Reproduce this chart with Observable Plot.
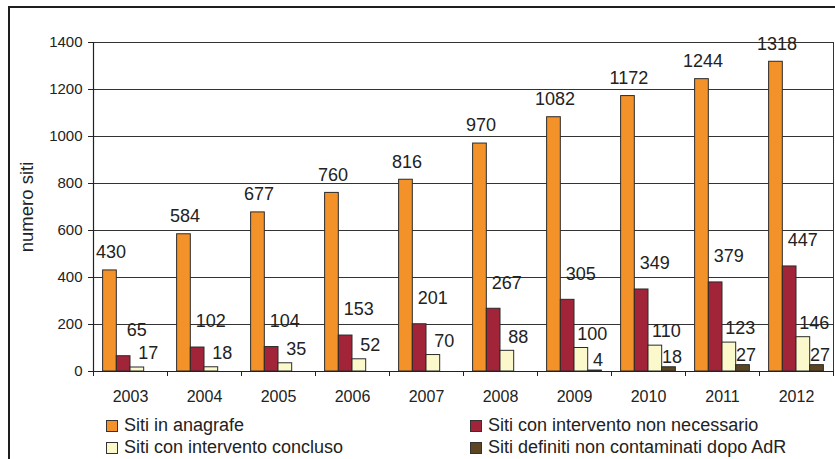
<!DOCTYPE html>
<html>
<head>
<meta charset="utf-8">
<script src="https://cdn.jsdelivr.net/npm/d3@7"></script>
<script src="https://cdn.jsdelivr.net/npm/@observablehq/plot@0.6"></script>
<style>
  html, body { margin: 0; padding: 0; background: #fff; }
  body { width: 835px; height: 459px; overflow: hidden; position: relative; font-family: "Liberation Sans", Arial, sans-serif; color: #222; }
  #frame { position: absolute; left: 8px; top: 6px; width: 900px; height: 520px; border: 2px solid #1e1e1e; box-sizing: border-box; }
  #chart { position: absolute; left: 0; top: 0; }
  #legend { position: absolute; left: 106px; top: 415px; display: grid; grid-template-columns: 364px auto; row-gap: 1px; font-size: 18px; line-height: 21px; }
  .item { display: flex; align-items: center; white-space: nowrap; }
  .sw { width: 10px; height: 10px; border: 1px solid #333; margin-right: 6px; flex: none; }
</style>
</head>
<body>
<div id="frame"></div>
<div id="chart"></div>
<div id="legend"></div>
<script>
const years = ["2003","2004","2005","2006","2007","2008","2009","2010","2011","2012"];
const sitiAnagrafe = [430, 584, 677, 760, 816, 970, 1082, 1172, 1244, 1318];
const sitiNonNecessario = [65, 102, 104, 153, 201, 267, 305, 349, 379, 447];
const sitiConcluso = [17, 18, 35, 52, 70, 88, 100, 110, 123, 146];
const sitiNonContaminati = [null, null, null, null, null, null, 4, 18, 27, 27];
const seriesNames = ["Siti in anagrafe", "Siti con intervento non necessario", "Siti con intervento concluso", "Siti definiti non contaminati dopo AdR"];
const yTicks = [0, 200, 400, 600, 800, 1000, 1200, 1400];

// styles (kept separate from data)
const colors = ["#F4922A", "#A12438", "#FBF9CB", "#5E4522"];
const labelDx = [1, 13, 11, 3];
const labelDy = [-18, -26, -14, -10];
const groupOffset = 0.13, barWidth = 0.185;

const allSeries = [sitiAnagrafe, sitiNonNecessario, sitiConcluso, sitiNonContaminati];
const rows = [];
allSeries.forEach((vals, k) => {
  vals.forEach((v, i) => {
    if (v == null) return;
    rows.push({k, i, v, year: years[i],
      x1: i + groupOffset + k * barWidth,
      x2: i + groupOffset + (k + 1) * barWidth});
  });
});

const labelMarks = [0,1,2,3].map(k => Plot.text(rows.filter(r => r.k === k), {
  x: r => (r.x1 + r.x2) / 2, y: "v", text: r => String(r.v),
  dx: labelDx[k], dy: labelDy[k], fontSize: 18, fill: "#222"
}));

const chart = Plot.plot({
  width: 835, height: 412,
  marginLeft: 93, marginRight: 2, marginTop: 42, marginBottom: 41,
  x: {domain: [0, years.length]},
  y: {domain: [0, 1400]},
  style: {fontFamily: "'Liberation Sans', Arial, sans-serif", background: "transparent", color: "#222"},
  marks: [
    Plot.ruleY(yTicks, {stroke: "#333", strokeWidth: 1}),
    Plot.ruleX([years.length], {stroke: "#333", strokeWidth: 1}),
    Plot.rectY(rows, {x1: "x1", x2: "x2", y1: 0, y2: "v", fill: d => colors[d.k], stroke: "#2a2a2a", strokeWidth: 1}),
    Plot.ruleX([0], {stroke: "#222", strokeWidth: 1.2}),
    Plot.ruleY([0], {stroke: "#222", strokeWidth: 1.2}),
    Plot.axisY({ticks: yTicks, tickSize: 5, tickPadding: 6, tickFormat: d => String(d), fontSize: 15, stroke: "#222", fill: "#222", label: null}),
    Plot.axisX({ticks: d3.range(years.length + 1), tickSize: 5, tickFormat: () => "", stroke: "#222", label: null}),
    Plot.axisX({ticks: years.map((_, i) => i + 0.5), tickSize: 0, tickPadding: 19, tickFormat: d => years[Math.floor(d)], fontSize: 16, fill: "#222", label: null}),
    Plot.text(["numero siti"], {frameAnchor: "left", dx: -66, rotate: -90, textAnchor: "middle", fontSize: 18.5, fill: "#222"}),
    ...labelMarks
  ]
});
document.getElementById("chart").appendChild(chart);

const legendOrder = [0, 1, 2, 3];
const legend = document.getElementById("legend");
legendOrder.forEach(k => {
  const it = document.createElement("div");
  it.className = "item";
  const sw = document.createElement("span");
  sw.className = "sw";
  sw.style.background = colors[k];
  it.appendChild(sw);
  const t = document.createElement("span");
  t.textContent = seriesNames[k];
  it.appendChild(t);
  legend.appendChild(it);
});
</script>
</body>
</html>
